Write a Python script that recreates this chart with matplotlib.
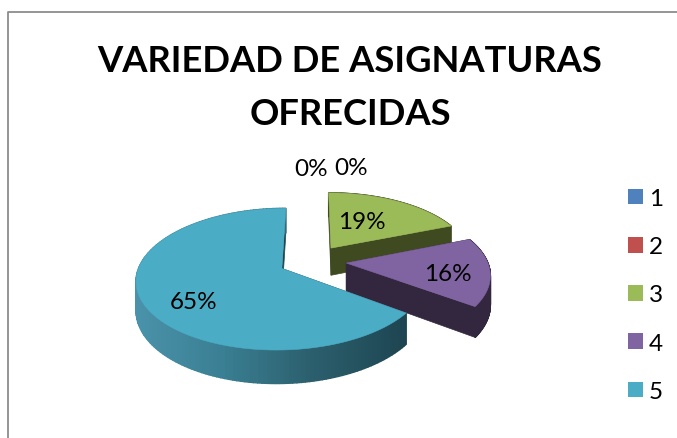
import numpy as np
import matplotlib
matplotlib.use("Agg")
import matplotlib.pyplot as plt
from matplotlib.patches import Polygon, Patch
from matplotlib.colors import LinearSegmentedColormap

# chart data
title = "VARIEDAD DE ASIGNATURAS\nOFRECIDAS"
categories = ["1", "2", "3", "4", "5"]
values = [0, 0, 19, 16, 65]
colors = ["#4F81BD", "#C0504D", "#9BBB59", "#8064A2", "#4BACC6"]
wall_colors = ["#2A4362", "#642A28", "#404A20", "#33273F", "#1E4652"]

# fake 3d settings, all in pixels of the picture
CX, CY = 312.5, 262
RX, RY = 141, 67
PERSP = 0.149
EXPLODE = 0.24
DEPTH = 28

plt.rcParams["font.family"] = ["Lato", "DejaVu Sans"]

def project(u, v):
    s = 1 / (1 + PERSP * v)
    return CX + RX * u * s, CY - RY * v * s, DEPTH * s

def slice_outline(a0, a1):
    mid = (a0 + a1) / 2
    ox, oy = EXPLODE * np.sin(mid), EXPLODE * np.cos(mid)
    t = np.linspace(a0, a1, 160)
    u = ox + np.sin(t)
    v = oy + np.cos(t)
    return ox, oy, u, v

fig = plt.figure(figsize=(6.77, 4.39), dpi=100)
ax = fig.add_axes([0, 0, 1, 1])
ax.set_xlim(0, 677)
ax.set_ylim(439, 0)
ax.axis("off")

# chart frame, only left and top show in the picture
ax.plot([8, 8, 677], [439, 12.5, 12.5], color="#8C8C8C", lw=1.3, solid_capstyle="butt")

ax.text(350, 88, title, ha="center", va="center", fontsize=26.2, fontweight="bold",
        color="black", linespacing=1.74)

shade = LinearSegmentedColormap.from_list("wall", ["#4B93AB", "#3A7F93", "#2C5F6E", "#1E4652"])

total = sum(values)
start = 0.0
for val, col, wall in zip(values, colors, wall_colors):
    span = 2 * np.pi * val / total
    if val == 0:
        continue
    ox, oy, u, v = slice_outline(start, start + span)
    X, Y, D = project(u, v)
    ax_, ay_, ad_ = project(ox, oy)

    # the two cut faces
    for i in (0, -1):
        ax.add_patch(Polygon([(ax_, ay_), (X[i], Y[i]), (X[i], Y[i] + D[i]), (ax_, ay_ + ad_)],
                             closed=True, fc=wall, ec=wall, lw=0.5, zorder=2))
    # outer wall in thin strips, only the big slice has the light gradient
    for i in range(len(X) - 1):
        if val == max(values):
            c = shade(np.clip((X[i] - 133) / (403 - 133), 0, 1))
        else:
            c = wall
        ax.add_patch(Polygon([(X[i], Y[i]), (X[i + 1], Y[i + 1]),
                              (X[i + 1], Y[i + 1] + D[i + 1]), (X[i], Y[i] + D[i])],
                             closed=True, fc=c, ec=c, lw=1.0, zorder=2))
    # top face
    ax.add_patch(Polygon(np.column_stack([np.r_[ax_, X], np.r_[ay_, Y]]),
                         closed=True, fc=col, ec=col, lw=0.4, zorder=2))
    start += span

# percent labels
label_xy = [(311, 170), (351, 169), (362, 223), (448, 275), (194, 303)]
for val, (lx, ly) in zip(values, label_xy):
    ax.text(lx, ly, f"{val}%", ha="center", va="center", fontsize=17.5, color="black", zorder=5)

handles = [Patch(fc=c, ec="none") for c in colors]
ax.legend(handles, categories, loc="center left", bbox_to_anchor=(628 / 677, 1 - 296 / 439),
          frameon=False, fontsize=17.5, handlelength=0.62, handleheight=0.62,
          handletextpad=0.25, labelspacing=1.12, borderpad=0, borderaxespad=0)

fig.savefig("out.png", dpi=100)
